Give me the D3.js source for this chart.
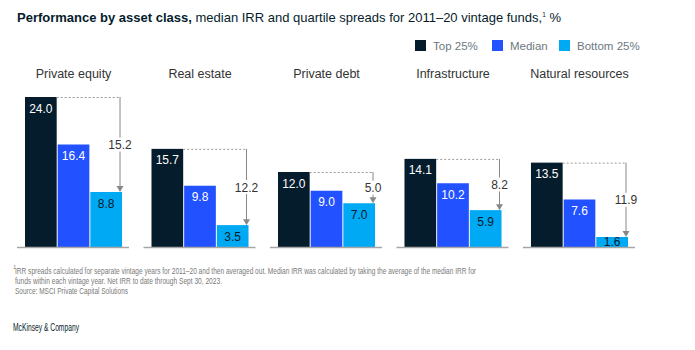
<!DOCTYPE html>
<html lang="en">
<head>
    <meta charset="UTF-8">
    <title>Performance by asset class</title>
    <script src="https://d3js.org/d3.v7.min.js"></script>
    <style>
        body { margin: 0; background: #fff; }
        svg { font-family: "Liberation Sans", Arial, sans-serif; }
    </style>
</head>
<body>
    <svg width="695" height="350"></svg>

    <script>
        // data
        const categories = ["Private equity", "Real estate", "Private debt", "Infrastructure", "Natural resources"];
        const seriesNames = ["Top 25%", "Median", "Bottom 25%"];
        const top25 = [24.0, 15.7, 12.0, 14.1, 13.5];
        const median = [16.4, 9.8, 9.0, 10.2, 7.6];
        const bottom25 = [8.8, 3.5, 7.0, 5.9, 1.6];
        const spreads = [15.2, 12.2, 5.0, 8.2, 11.9];

        const colors = ["#051c2c", "#2251ff", "#00a9f4"];
        const labelColors = ["#fff", "#fff", "#051c2c"];

        const svg = d3.select("svg");
        const baseline = 247;

        const x = d3.scaleBand()
            .domain(categories)
            .range([25, 628])
            .paddingInner(0.233)
            .paddingOuter(0);

        const xs = d3.scaleBand()
            .domain(seriesNames)
            .range([0, x.bandwidth()])
            .paddingInner(0.03);

        const y = d3.scaleLinear()
            .domain([0, 24])
            .range([baseline, 97]);

        // title
        const title = svg.append("text")
            .attr("x", 17).attr("y", 22)
            .attr("font-size", 13)
            .attr("fill", "#051c2c");
        title.append("tspan").attr("font-weight", "bold").text("Performance by asset class,");
        title.append("tspan").text(" median IRR and quartile spreads for 2011\u201320 vintage funds,");
        title.append("tspan").attr("font-size", 6.5).attr("dy", -5).text("1");
        title.append("tspan").attr("dy", 5).text(" %");

        // legend
        const legendX = [415, 492, 559];
        seriesNames.forEach((s, i) => {
            svg.append("rect")
                .attr("x", legendX[i]).attr("y", 40)
                .attr("width", 11).attr("height", 11)
                .attr("fill", colors[i]);
            svg.append("text")
                .attr("x", legendX[i] + 18).attr("y", 49.5)
                .attr("font-size", 11.5)
                .attr("fill", "#6d7780")
                .text(s);
        });

        const rows = categories.map((c, i) => ({
            cat: c,
            vals: [top25[i], median[i], bottom25[i]],
            spread: spreads[i]
        }));

        const groups = svg.selectAll(".grp")
            .data(rows)
            .enter()
            .append("g")
            .attr("class", "grp")
            .attr("transform", d => `translate(${x(d.cat)},0)`);

        // category labels
        groups.append("text")
            .attr("x", x.bandwidth() / 2)
            .attr("y", 78)
            .attr("text-anchor", "middle")
            .attr("font-size", 12.5)
            .attr("fill", "#333")
            .text(d => d.cat);

        // bars
        groups.selectAll(".bar")
            .data(d => d.vals.map((v, i) => ({ v, i })))
            .enter()
            .append("rect")
            .attr("class", "bar")
            .attr("x", d => xs(seriesNames[d.i]))
            .attr("y", d => y(d.v))
            .attr("width", xs.bandwidth())
            .attr("height", d => baseline - y(d.v))
            .attr("fill", d => colors[d.i]);

        // value labels
        groups.selectAll(".val")
            .data(d => d.vals.map((v, i) => ({ v, i })))
            .enter()
            .append("text")
            .attr("class", "val")
            .attr("x", d => xs(seriesNames[d.i]) + xs.bandwidth() / 2)
            .attr("y", d => Math.min(y(d.v) + 15.5, baseline - 1))
            .attr("text-anchor", "middle")
            .attr("font-size", 12)
            .attr("fill", d => labelColors[d.i])
            .text(d => d.v.toFixed(1));

        // baseline
        groups.append("line")
            .attr("x1", -8).attr("x2", x.bandwidth() + 7)
            .attr("y1", baseline + 0.5).attr("y2", baseline + 0.5)
            .attr("stroke", "#a6a6a6")
            .attr("stroke-width", 1.5);

        // spread arrows
        const ax = xs("Bottom 25%") + xs.bandwidth() - 2;
        groups.append("line")
            .attr("x1", xs("Top 25%") + xs.bandwidth())
            .attr("x2", ax)
            .attr("y1", d => y(d.vals[0]) + 0.5)
            .attr("y2", d => y(d.vals[0]) + 0.5)
            .attr("stroke", "#999")
            .attr("stroke-dasharray", "2,2");
        groups.append("line")
            .attr("x1", ax).attr("x2", ax)
            .attr("y1", d => y(d.vals[0]))
            .attr("y2", d => y(d.vals[2]) - 4)
            .attr("stroke", "#888")
            .attr("stroke-width", 1);
        groups.append("path")
            .attr("d", d => `M${ax - 3.5},${y(d.vals[2]) - 6} L${ax + 3.5},${y(d.vals[2]) - 6} L${ax},${y(d.vals[2])} Z`)
            .attr("fill", "#888");

        groups.append("rect")
            .attr("x", ax - 14)
            .attr("y", d => (y(d.vals[0]) + y(d.vals[2])) / 2 - 7)
            .attr("width", 28).attr("height", 14)
            .attr("fill", "#fff");
        groups.append("text")
            .attr("x", ax)
            .attr("y", d => (y(d.vals[0]) + y(d.vals[2])) / 2 + 4.5)
            .attr("text-anchor", "middle")
            .attr("font-size", 12)
            .attr("fill", "#333")
            .text(d => d.spread.toFixed(1));

        // footnotes
        const notes = [
            "IRR spreads calculated for separate vintage years for 2011\u201320 and then averaged out. Median IRR was calculated by taking the average of the median IRR for",
            "funds within each vintage year. Net IRR to date through Sept 30, 2023.",
            "Source: MSCI Private Capital Solutions"
        ];
        const noteLen = [461, 207, 113];
        svg.append("text")
            .attr("x", 13).attr("y", 269)
            .attr("font-size", 6)
            .attr("fill", "#888")
            .text("1");
        notes.forEach((t, i) => {
            svg.append("text")
                .attr("x", 15).attr("y", 273.5 + i * 10)
                .attr("font-size", 9.5)
                .attr("fill", "#7a7a7a")
                .attr("textLength", noteLen[i])
                .attr("lengthAdjust", "spacingAndGlyphs")
                .text(t);
        });

        svg.append("text")
            .attr("x", 13).attr("y", 330.5)
            .attr("font-size", 10)
            .attr("fill", "#051c2c")
            .attr("textLength", 66)
            .attr("lengthAdjust", "spacingAndGlyphs")
            .text("McKinsey & Company");
    </script>
</body>
</html>
